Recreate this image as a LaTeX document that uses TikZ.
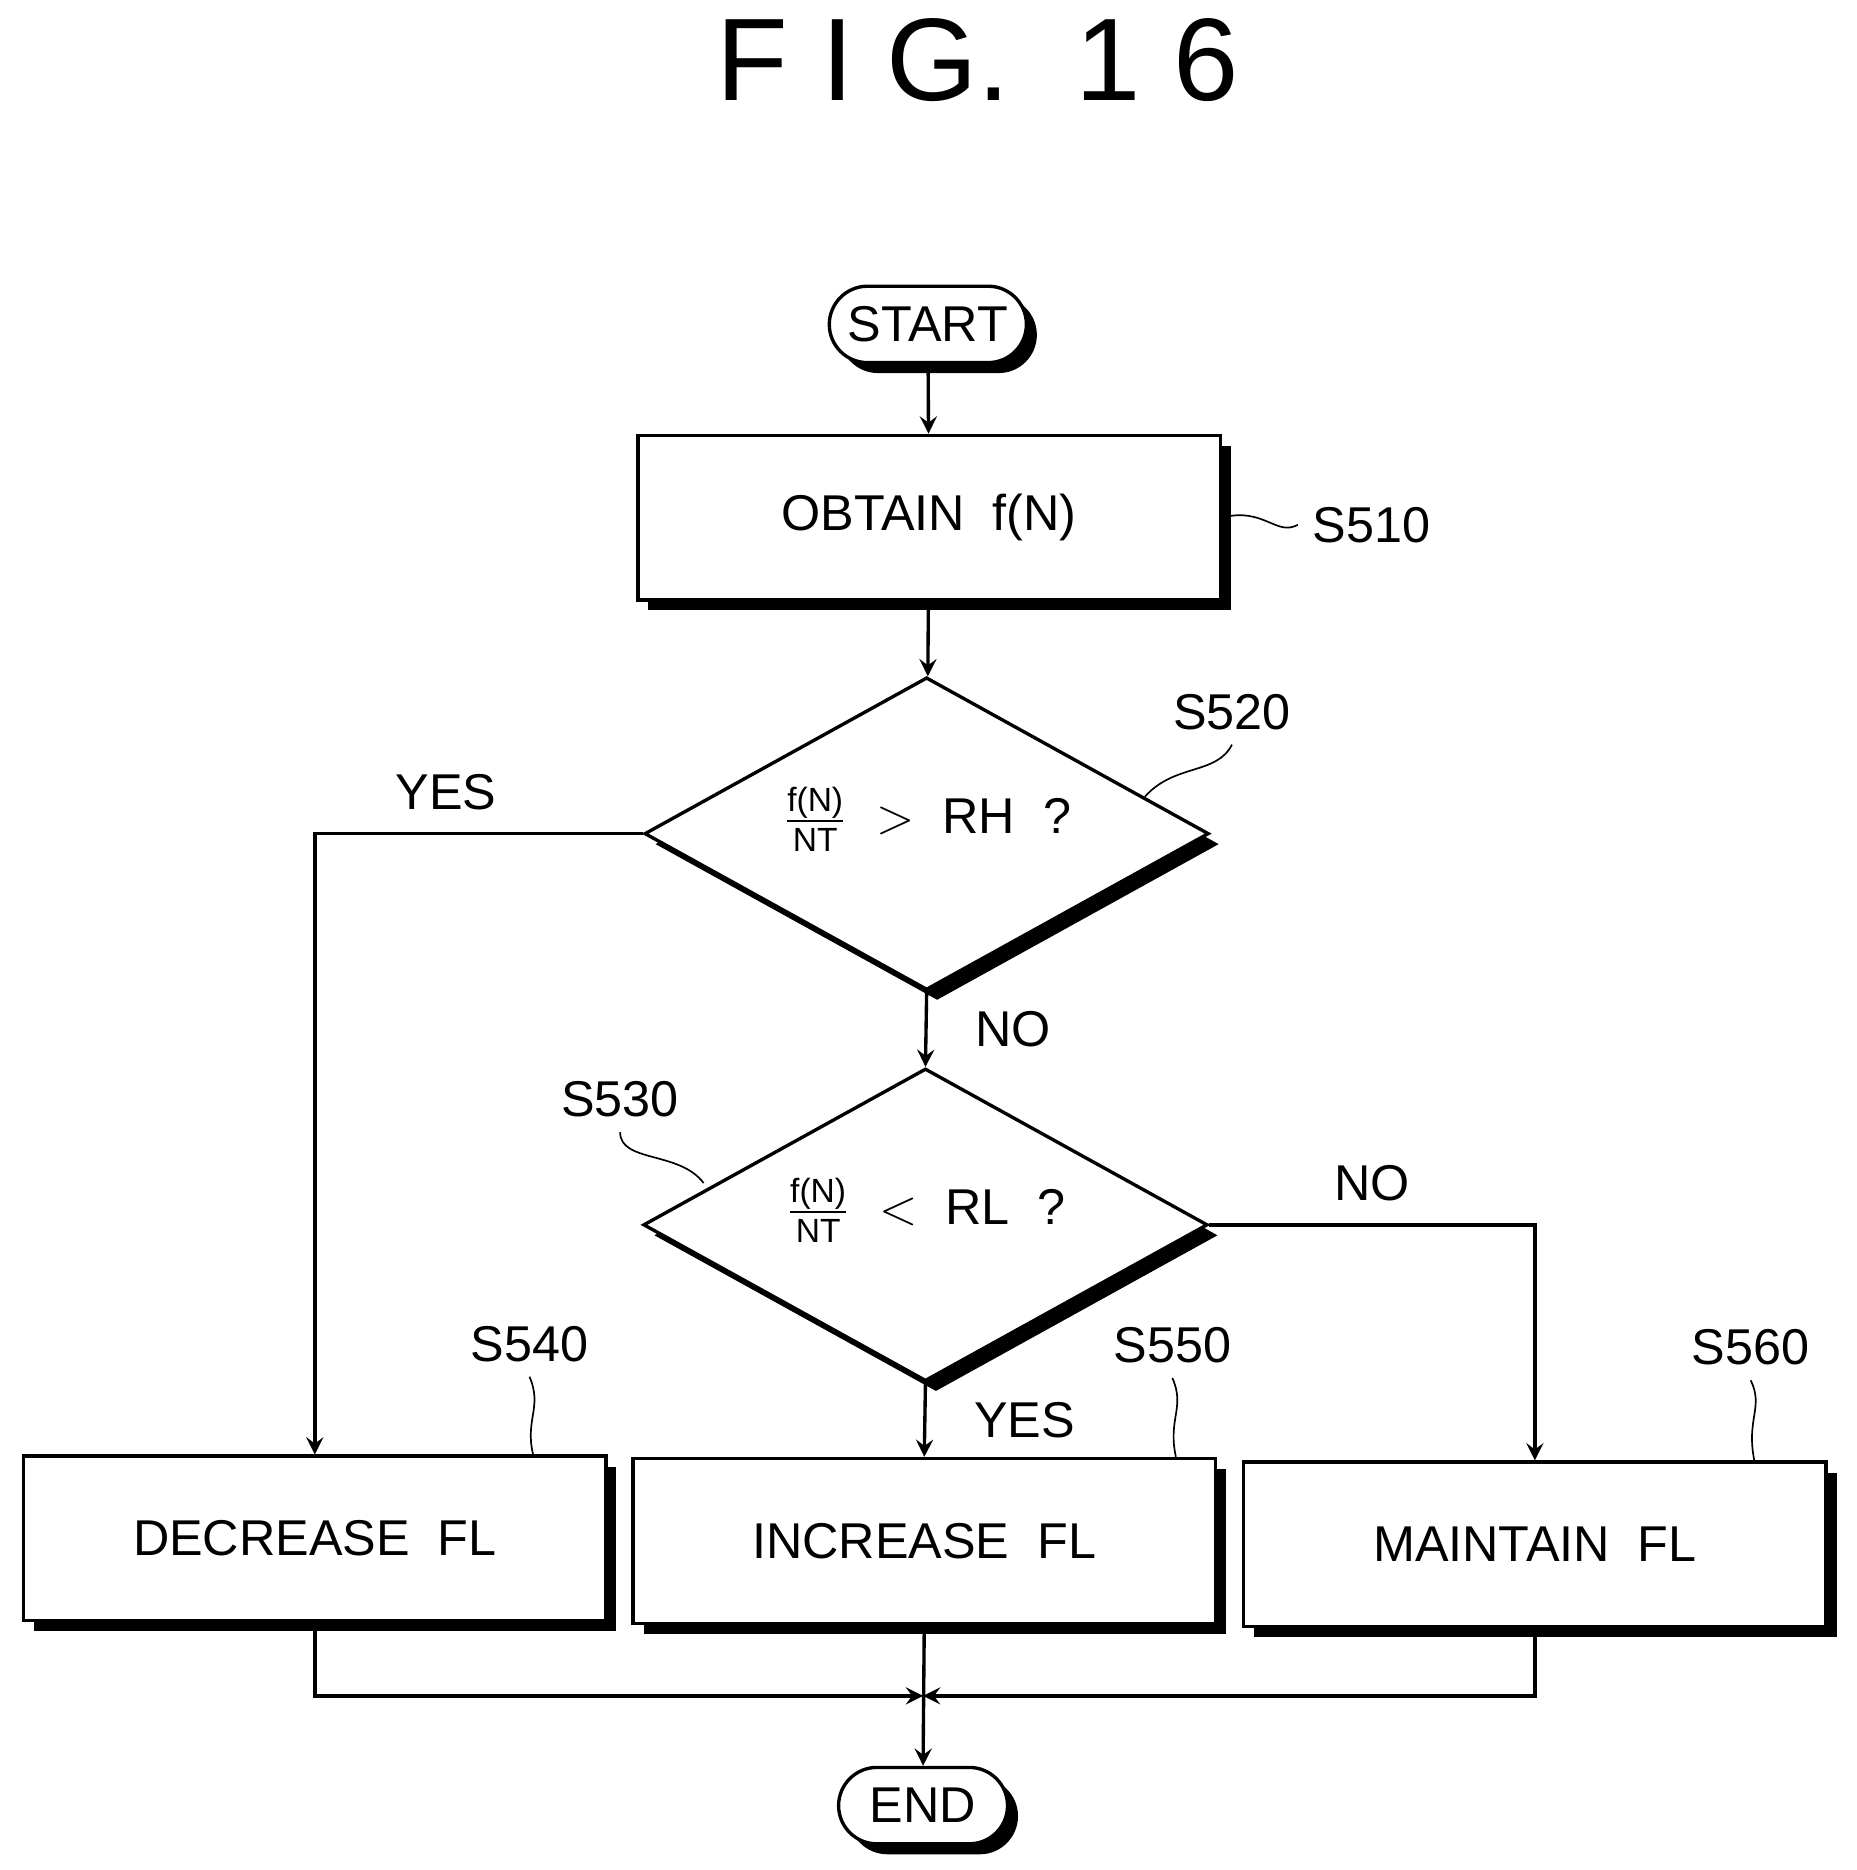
\documentclass[tikz,border=0pt]{standalone}
\usepackage{amsmath}
\usepackage{fontspec}
\setmainfont{Liberation Sans}
\usetikzlibrary{shapes,arrows,shadows}
\begin{document}
\begin{tikzpicture}[
        x=0.01cm, y=-0.01cm,
        >=stealth,
        font=\fontsize{12}{14}\selectfont,
        dshadow/.style={drop shadow={shadow xshift=2.5pt, shadow yshift=-2.5pt, fill=black, opacity=1}},
        terminal/.style={draw, thick, fill=white, rounded rectangle, minimum width=1.65cm, minimum height=0.64cm, dshadow},
        process/.style={draw, thick, fill=white, minimum width=4.88cm, minimum height=1.38cm, dshadow},
        decision/.style={draw, thick, fill=white, diamond, inner sep=0pt, minimum width=4.73cm, minimum height=2.62cm, dshadow},
        tag/.style={font=\fontsize{12}{14}\selectfont},
    ]
    \useasboundingbox (0,0) rectangle (1557,1568);

    %Title
    \node (title) at (820,50) {\fontsize{28}{30}\selectfont F I G.\ \ 1 6};

    %Draw the flow nodes
    \node [terminal] (start) at (778,272) {START};
    \node [process] (s510) at (779,434) {OBTAIN\ \ f(N)};
    \node [decision] (s520) at (777,699) {\smash{\makebox[0pt]{$\frac{\text{f(N)}}{\text{NT}}$\ \ $>$\ \ RH\ \ ?}}};
    \node [decision] (s530) at (776,1027) {\smash{\makebox[0pt]{$\frac{\text{f(N)}}{\text{NT}}$\ \ $<$\ \ RL\ \ ?}}};
    \node [process] (s540) at (264,1290) {DECREASE\ \ FL};
    \node [process] (s550) at (775,1292) {INCREASE\ \ FL};
    \node [process] (s560) at (1287,1295) {MAINTAIN\ \ FL};
    \node [terminal] (end) at (774,1514) {END};

    %Step labels with their leaders
    \node [tag] (l510) at (1150,440) {S510};
    \node [tag] (l520) at (1033,597) {S520};
    \node [tag] (l530) at (520,922) {S530};
    \node [tag] (l540) at (444,1127) {S540};
    \node [tag] (l550) at (983,1128) {S550};
    \node [tag] (l560) at (1468,1130) {S560};
    \draw (s510.east) .. controls (1060,425) and (1070,450) .. (l510.west);
    \draw (960,668) .. controls (985,640) and (1020,650) .. (l520.south);
    \draw (590,992) .. controls (570,965) and (520,975) .. (l530.south);
    \draw (l540.south) .. controls (455,1180) and (440,1190) .. (s540.north -| 447,0);
    \draw (l550.south) .. controls (994,1180) and (979,1190) .. (s550.north -| 986,0);
    \draw (l560.south) .. controls (1479,1180) and (1464,1190) .. (s560.north -| 1471,0);

    %Connectors
    \draw [->, thick] (start) -- (s510);
    \draw [->, thick] (s510) -- (s520);
    \draw [->, thick] (s520.west) -| (s540.north) node [pos=0.3, above=2pt] {YES};
    \draw [->, thick] (s520.south) -- (s530.north) node [midway, right=8pt] {NO};
    \draw [->, thick] (s530.east) -| (s560.north) node [pos=0.25, above=2pt] {NO};
    \draw [->, thick] (s530.south) -- (s550.north) node [midway, right=8pt] {YES};

    %Merge to the end
    \coordinate (join) at (774,1422);
    \draw [->, thick] (s540.south) |- (join);
    \draw [->, thick] (s560.south) |- (join);
    \draw [->, thick] (s550.south) -- (end.north);
\end{tikzpicture}
\end{document}
